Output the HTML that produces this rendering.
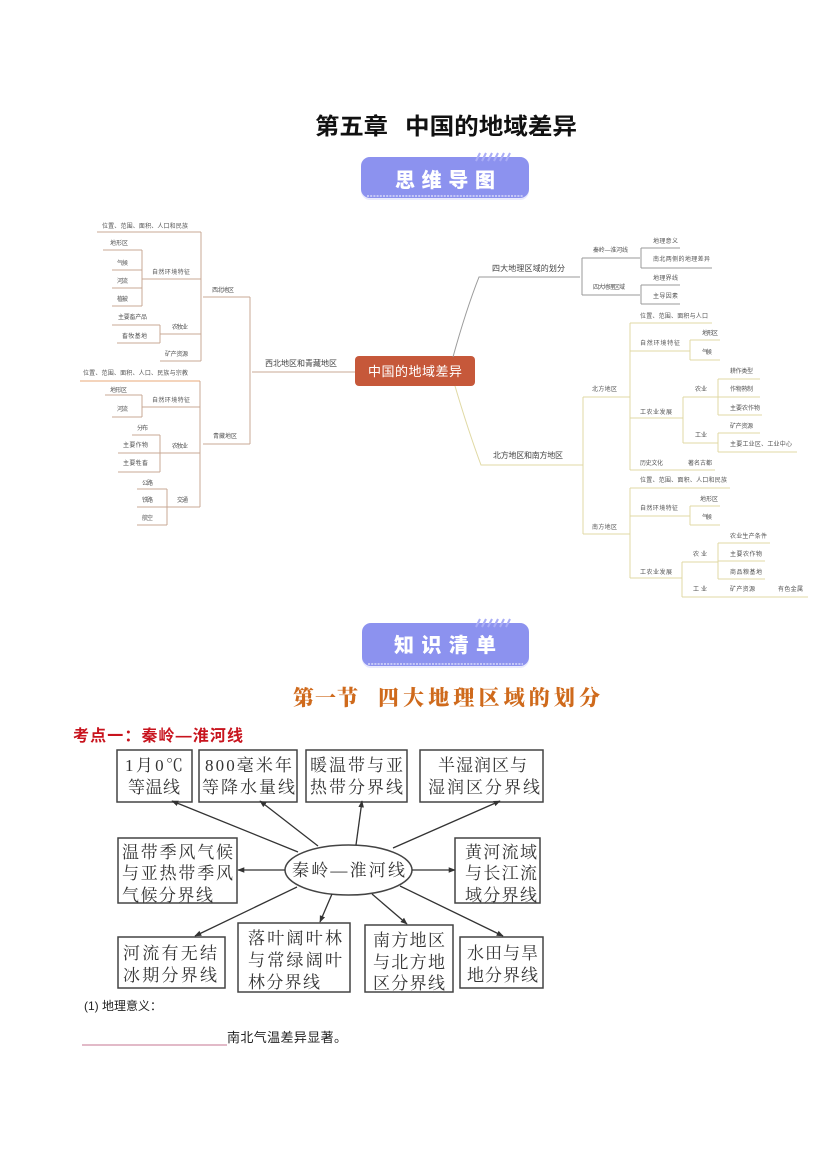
<!DOCTYPE html>
<html><head><meta charset="utf-8">
<style>
html,body{margin:0;padding:0;background:#fff;}
svg{display:block;}
.mm{font-family:"Liberation Sans","Noto Sans CJK SC",sans-serif;font-size:6px;fill:#555;}
.mm8{font-family:"Liberation Sans","Noto Sans CJK SC",sans-serif;font-size:8px;fill:#444;}
.bx{font-family:"Liberation Serif","Noto Serif CJK SC",serif;font-size:17px;fill:#333;}
</style></head>
<body>
<svg width="827" height="1169" viewBox="0 0 827 1169" xmlns="http://www.w3.org/2000/svg">
<defs>
<marker id="ar" viewBox="0 0 10 10" refX="9" refY="5" markerWidth="7" markerHeight="7" orient="auto-start-reverse" markerUnits="userSpaceOnUse">
<path d="M0,1 L10,5 L0,9 z" fill="#333"/>
</marker>
</defs>
<rect width="827" height="1169" fill="#fff"/>

<!-- Title -->
<text x="315" y="134" textLength="73" lengthAdjust="spacingAndGlyphs" font-family="Liberation Sans,Noto Sans CJK SC,sans-serif" font-weight="700" font-size="23" fill="#111">第五章</text>
<text x="405" y="134" textLength="172" lengthAdjust="spacingAndGlyphs" font-family="Liberation Sans,Noto Sans CJK SC,sans-serif" font-weight="700" font-size="23" fill="#111">中国的地域差异</text>

<!-- Banner 1 -->
<g>
<rect x="361" y="157" width="168" height="43" rx="9" fill="#e9eafd"/>
<rect x="361" y="157" width="168" height="41" rx="9" fill="#8c92ef"/>
<line x1="367" y1="196" x2="523" y2="196" stroke="#fff" stroke-width="1.2" stroke-dasharray="2 1.2" opacity="0.8"/>
<g stroke="#a9adf6" stroke-width="2">
<line x1="476" y1="161" x2="480" y2="153"/><line x1="482" y1="161" x2="486" y2="153"/><line x1="488" y1="161" x2="492" y2="153"/><line x1="494" y1="161" x2="498" y2="153"/><line x1="500" y1="161" x2="504" y2="153"/><line x1="506" y1="161" x2="510" y2="153"/>
</g>
<text x="395" y="187" textLength="100" lengthAdjust="spacing" font-family="Liberation Sans,Noto Sans CJK SC,sans-serif" font-weight="900" font-size="20" fill="#fff">思维导图</text>
</g>

<!-- ===== Mind map ===== -->
<rect x="355" y="356" width="120" height="30" rx="4" fill="#c6583a"/>
<text x="368" y="376" textLength="94" lengthAdjust="spacing" font-family="Liberation Sans,Noto Sans CJK SC,sans-serif" font-size="13" fill="#fff">中国的地域差异</text>

<!-- Left subtree lines -->
<g fill="none" stroke="#c9a894" stroke-width="1">
<path d="M355,372 L252,372"/>
<path d="M250,297 L250,444"/>
<path d="M250,297 L203,297"/>
<path d="M250,444 L203,444"/>
<path d="M201,232 L201,361"/>
<path d="M201,232 L97,232"/>
<path d="M201,279 L142,279"/>
<path d="M201,334 L160,334"/>
<path d="M201,361 L160,361"/>
<path d="M142,250 L142,306"/>
<path d="M142,250 L103,250"/>
<path d="M142,270 L112,270"/>
<path d="M142,288 L112,288"/>
<path d="M142,306 L112,306"/>
<path d="M160,325 L160,343"/>
<path d="M160,325 L112,325"/>
<path d="M160,343 L117,343"/>
<path d="M200,381 L200,507"/>
<path d="M200,381 L80,381" stroke="#e8a878"/>
<path d="M200,407 L142,407"/>
<path d="M200,453 L160,453"/>
<path d="M200,507 L167,507"/>
<path d="M142,395 L142,417"/>
<path d="M142,395 L105,395"/>
<path d="M142,417 L112,417"/>
<path d="M160,435 L160,472"/>
<path d="M160,435 L132,435"/>
<path d="M160,453 L118,453"/>
<path d="M160,472 L118,472"/>
<path d="M167,489 L167,525"/>
<path d="M167,489 L137,489"/>
<path d="M167,507 L137,507"/>
<path d="M167,525 L137,525"/>
</g>
<text class="mm8" x="265" y="366" textLength="72" lengthAdjust="spacing">西北地区和青藏地区</text>
<text class="mm" x="212" y="292" textLength="22" lengthAdjust="spacing">西北地区</text>
<text class="mm" x="213" y="438" textLength="24" lengthAdjust="spacing">青藏地区</text>
<text class="mm" x="102" y="228" textLength="86" lengthAdjust="spacing">位置、范围、面积、人口和民族</text>
<text class="mm" x="152" y="274" textLength="38" lengthAdjust="spacing">自然环境特征</text>
<text class="mm" x="110" y="245" textLength="18" lengthAdjust="spacing">地形区</text>
<text class="mm" x="117" y="265" textLength="11" lengthAdjust="spacing">气候</text>
<text class="mm" x="117" y="283" textLength="11" lengthAdjust="spacing">河流</text>
<text class="mm" x="117" y="301" textLength="11" lengthAdjust="spacing">植被</text>
<text class="mm" x="172" y="329" textLength="16" lengthAdjust="spacing">农牧业</text>
<text class="mm" x="118" y="319" textLength="29" lengthAdjust="spacing">主要畜产品</text>
<text class="mm" x="122" y="338" textLength="25" lengthAdjust="spacing">畜牧基地</text>
<text class="mm" x="165" y="356" textLength="23" lengthAdjust="spacing">矿产资源</text>
<text class="mm" x="83" y="375" textLength="105" lengthAdjust="spacing">位置、范围、面积、人口、民族与宗教</text>
<text class="mm" x="152" y="402" textLength="38" lengthAdjust="spacing">自然环境特征</text>
<text class="mm" x="110" y="392" textLength="17" lengthAdjust="spacing">地形区</text>
<text class="mm" x="117" y="411" textLength="11" lengthAdjust="spacing">河流</text>
<text class="mm" x="172" y="448" textLength="16" lengthAdjust="spacing">农牧业</text>
<text class="mm" x="137" y="430" textLength="11" lengthAdjust="spacing">分布</text>
<text class="mm" x="123" y="447" textLength="25" lengthAdjust="spacing">主要作物</text>
<text class="mm" x="123" y="465" textLength="25" lengthAdjust="spacing">主要牲畜</text>
<text class="mm" x="177" y="502" textLength="11" lengthAdjust="spacing">交通</text>
<text class="mm" x="142" y="485" textLength="11" lengthAdjust="spacing">公路</text>
<text class="mm" x="142" y="502" textLength="11" lengthAdjust="spacing">铁路</text>
<text class="mm" x="142" y="520" textLength="11" lengthAdjust="spacing">航空</text>

<!-- Right top subtree -->
<g fill="none" stroke="#9a9a9a" stroke-width="1">
<path d="M453,357 Q466,310 479,277 L580,277"/>
<path d="M582,258 L582,295"/>
<path d="M582,258 L640,258"/>
<path d="M582,295 L640,295"/>
<path d="M641,248 L641,268"/>
<path d="M641,248 L680,248"/>
<path d="M641,268 L712,268"/>
<path d="M641,285 L680,285"/>
<path d="M641,285 L641,304"/>
<path d="M641,304 L680,304"/>
</g>
<text class="mm8" x="492" y="271" textLength="73" lengthAdjust="spacing">四大地理区域的划分</text>
<text class="mm" x="593" y="252" textLength="35" lengthAdjust="spacing">秦岭—淮河线</text>
<text class="mm" x="593" y="289" textLength="32" lengthAdjust="spacing">四大地理区域</text>
<text class="mm" x="653" y="243" textLength="25" lengthAdjust="spacing">地理意义</text>
<text class="mm" x="653" y="261" textLength="57" lengthAdjust="spacing">南北两侧的地理差异</text>
<text class="mm" x="653" y="280" textLength="25" lengthAdjust="spacing">地理界线</text>
<text class="mm" x="653" y="298" textLength="25" lengthAdjust="spacing">主导因素</text>

<!-- Right bottom subtree -->
<g fill="none" stroke="#e0d9a4" stroke-width="1">
<path d="M455,386 Q468,430 481,465 L583,465"/>
<path d="M583,397 L583,534"/>
<path d="M583,397 L630,397"/>
<path d="M583,534 L630,534"/>
<path d="M630,323 L630,470"/>
<path d="M630,323 L712,323"/>
<path d="M630,351 L690,351"/>
<path d="M630,418 L683,418"/>
<path d="M630,470 L715,470"/>
<path d="M690,340 L690,360"/>
<path d="M690,340 L720,340"/>
<path d="M690,360 L720,360"/>
<path d="M683,397 L683,443"/>
<path d="M683,397 L718,397"/>
<path d="M683,443 L718,443"/>
<path d="M718,379 L718,415"/>
<path d="M718,379 L760,379"/>
<path d="M718,397 L760,397"/>
<path d="M718,415 L762,415"/>
<path d="M718,433 L718,452"/>
<path d="M718,433 L760,433"/>
<path d="M718,452 L797,452"/>
<path d="M630,488 L630,578"/>
<path d="M630,488 L730,488"/>
<path d="M630,516 L690,516"/>
<path d="M630,578 L682,578"/>
<path d="M690,506 L690,525"/>
<path d="M690,506 L720,506"/>
<path d="M690,525 L720,525"/>
<path d="M682,562 L682,597"/>
<path d="M682,562 L718,562"/>
<path d="M682,597 L808,597"/>
<path d="M718,543 L718,579"/>
<path d="M718,543 L770,543"/>
<path d="M718,561 L765,561"/>
<path d="M718,579 L765,579"/>
</g>
<text class="mm8" x="493" y="458" textLength="70" lengthAdjust="spacing">北方地区和南方地区</text>
<text class="mm" x="592" y="391" textLength="25" lengthAdjust="spacing">北方地区</text>
<text class="mm" x="640" y="318" textLength="68" lengthAdjust="spacing">位置、范围、面积与人口</text>
<text class="mm" x="640" y="345" textLength="40" lengthAdjust="spacing">自然环境特征</text>
<text class="mm" x="702" y="335" textLength="16" lengthAdjust="spacing">地形区</text>
<text class="mm" x="702" y="354" textLength="10" lengthAdjust="spacing">气候</text>
<text class="mm" x="640" y="414" textLength="32" lengthAdjust="spacing">工农业发展</text>
<text class="mm" x="695" y="391" textLength="12" lengthAdjust="spacing">农业</text>
<text class="mm" x="695" y="437" textLength="12" lengthAdjust="spacing">工业</text>
<text class="mm" x="730" y="373" textLength="23" lengthAdjust="spacing">耕作类型</text>
<text class="mm" x="730" y="391" textLength="23" lengthAdjust="spacing">作物熟制</text>
<text class="mm" x="730" y="410" textLength="30" lengthAdjust="spacing">主要农作物</text>
<text class="mm" x="730" y="428" textLength="23" lengthAdjust="spacing">矿产资源</text>
<text class="mm" x="730" y="446" textLength="62" lengthAdjust="spacing">主要工业区、工业中心</text>
<text class="mm" x="640" y="465" textLength="23" lengthAdjust="spacing">历史文化</text>
<text class="mm" x="688" y="465" textLength="24" lengthAdjust="spacing">著名古都</text>
<text class="mm" x="592" y="529" textLength="25" lengthAdjust="spacing">南方地区</text>
<text class="mm" x="640" y="482" textLength="87" lengthAdjust="spacing">位置、范围、面积、人口和民族</text>
<text class="mm" x="640" y="510" textLength="38" lengthAdjust="spacing">自然环境特征</text>
<text class="mm" x="700" y="501" textLength="18" lengthAdjust="spacing">地形区</text>
<text class="mm" x="702" y="519" textLength="10" lengthAdjust="spacing">气候</text>
<text class="mm" x="640" y="574" textLength="32" lengthAdjust="spacing">工农业发展</text>
<text class="mm" x="693" y="556" textLength="14" lengthAdjust="spacing">农业</text>
<text class="mm" x="693" y="591" textLength="14" lengthAdjust="spacing">工业</text>
<text class="mm" x="730" y="538" textLength="37" lengthAdjust="spacing">农业生产条件</text>
<text class="mm" x="730" y="556" textLength="32" lengthAdjust="spacing">主要农作物</text>
<text class="mm" x="730" y="574" textLength="32" lengthAdjust="spacing">商品粮基地</text>
<text class="mm" x="730" y="591" textLength="25" lengthAdjust="spacing">矿产资源</text>
<text class="mm" x="778" y="591" textLength="25" lengthAdjust="spacing">有色金属</text>

<!-- Banner 2 -->
<g>
<rect x="362" y="623" width="167" height="45" rx="9" fill="#e9eafd"/>
<rect x="362" y="623" width="167" height="43" rx="9" fill="#8c92ef"/>
<line x1="368" y1="664" x2="523" y2="664" stroke="#fff" stroke-width="1.2" stroke-dasharray="2 1.2" opacity="0.8"/>
<g stroke="#a9adf6" stroke-width="2">
<line x1="476" y1="627" x2="480" y2="619"/><line x1="482" y1="627" x2="486" y2="619"/><line x1="488" y1="627" x2="492" y2="619"/><line x1="494" y1="627" x2="498" y2="619"/><line x1="500" y1="627" x2="504" y2="619"/><line x1="506" y1="627" x2="510" y2="619"/>
</g>
<text x="394" y="652" textLength="102" lengthAdjust="spacing" font-family="Liberation Sans,Noto Sans CJK SC,sans-serif" font-weight="900" font-size="20" fill="#fff">知识清单</text>
</g>

<!-- Section title -->
<text x="293" y="705" textLength="65" lengthAdjust="spacing" font-family="Liberation Serif,Noto Serif CJK SC,serif" font-weight="900" font-size="21" fill="#cf6a1c">第一节</text>
<text x="378" y="705" textLength="222" lengthAdjust="spacing" font-family="Liberation Serif,Noto Serif CJK SC,serif" font-weight="900" font-size="21" fill="#cf6a1c">四大地理区域的划分</text>

<!-- 考点一 -->
<text x="73" y="741" textLength="170" lengthAdjust="spacing" font-family="Liberation Sans,Noto Sans CJK SC,sans-serif" font-weight="700" font-size="16" fill="#c8141e">考点一：秦岭—淮河线</text>

<!-- ===== Qinling diagram ===== -->
<g fill="#fff" stroke="#444" stroke-width="1.5">
<rect x="117" y="750" width="75" height="52"/>
<rect x="199" y="750" width="98" height="52"/>
<rect x="306" y="750" width="101" height="52"/>
<rect x="420" y="750" width="123" height="52"/>
<rect x="118" y="838" width="119" height="65"/>
<rect x="455" y="838" width="85" height="65"/>
<rect x="118" y="937" width="107" height="51"/>
<rect x="238" y="923" width="112" height="69"/>
<rect x="365" y="925" width="88" height="67"/>
<rect x="460" y="937" width="83" height="51"/>
<ellipse cx="348.5" cy="870" rx="63.5" ry="25"/>
</g>
<g stroke="#333" stroke-width="1.3" marker-end="url(#ar)">
<line x1="298" y1="852" x2="172" y2="801"/>
<line x1="318" y1="846" x2="260" y2="801"/>
<line x1="356" y1="845" x2="362" y2="801"/>
<line x1="393" y1="848" x2="500" y2="801"/>
<line x1="285" y1="870" x2="238" y2="870"/>
<line x1="412" y1="870" x2="455" y2="870"/>
<line x1="297" y1="887" x2="195" y2="936"/>
<line x1="332" y1="894" x2="320" y2="922"/>
<line x1="372" y1="894" x2="407" y2="924"/>
<line x1="400" y1="886" x2="503" y2="936"/>
</g>
<g>
<text class="bx" x="125" y="771" textLength="58" lengthAdjust="spacing">1月0℃</text>
<text class="bx" x="128" y="793" textLength="52" lengthAdjust="spacing">等温线</text>
<text class="bx" x="205" y="771" textLength="87" lengthAdjust="spacing">800毫米年</text>
<text class="bx" x="202" y="793" textLength="93" lengthAdjust="spacing">等降水量线</text>
<text class="bx" x="310" y="771" textLength="93" lengthAdjust="spacing">暖温带与亚</text>
<text class="bx" x="310" y="793" textLength="93" lengthAdjust="spacing">热带分界线</text>
<text class="bx" x="438" y="771" textLength="89" lengthAdjust="spacing">半湿润区与</text>
<text class="bx" x="428" y="793" textLength="112" lengthAdjust="spacing">湿润区分界线</text>
<text class="bx" x="122" y="858" textLength="111" lengthAdjust="spacing">温带季风气候</text>
<text class="bx" x="122" y="879" textLength="111" lengthAdjust="spacing">与亚热带季风</text>
<text class="bx" x="122" y="901" textLength="91" lengthAdjust="spacing">气候分界线</text>
<text class="bx" x="292" y="876" textLength="113" lengthAdjust="spacing">秦岭—淮河线</text>
<text class="bx" x="465" y="858" textLength="72" lengthAdjust="spacing">黄河流域</text>
<text class="bx" x="465" y="879" textLength="72" lengthAdjust="spacing">与长江流</text>
<text class="bx" x="465" y="901" textLength="72" lengthAdjust="spacing">域分界线</text>
<text class="bx" x="123" y="959" textLength="94" lengthAdjust="spacing">河流有无结</text>
<text class="bx" x="123" y="981" textLength="94" lengthAdjust="spacing">冰期分界线</text>
<text class="bx" x="248" y="944" textLength="94" lengthAdjust="spacing">落叶阔叶林</text>
<text class="bx" x="248" y="966" textLength="94" lengthAdjust="spacing">与常绿阔叶</text>
<text class="bx" x="248" y="988" textLength="72" lengthAdjust="spacing">林分界线</text>
<text class="bx" x="373" y="946" textLength="72" lengthAdjust="spacing">南方地区</text>
<text class="bx" x="373" y="968" textLength="72" lengthAdjust="spacing">与北方地</text>
<text class="bx" x="373" y="989" textLength="72" lengthAdjust="spacing">区分界线</text>
<text class="bx" x="467" y="959" textLength="71" lengthAdjust="spacing">水田与旱</text>
<text class="bx" x="467" y="981" textLength="71" lengthAdjust="spacing">地分界线</text>
</g>

<!-- Bottom text -->
<text x="84" y="1010" font-family="Liberation Sans,Noto Sans CJK SC,sans-serif" font-size="12" fill="#222">(1) 地理意义：</text>
<line x1="82" y1="1045" x2="227" y2="1045" stroke="#d9a3b5" stroke-width="1.5"/>
<text x="227" y="1042" textLength="120" lengthAdjust="spacing" font-family="Liberation Sans,Noto Sans CJK SC,sans-serif" font-size="13" fill="#222">南北气温差异显著。</text>
</svg>
</body></html>
